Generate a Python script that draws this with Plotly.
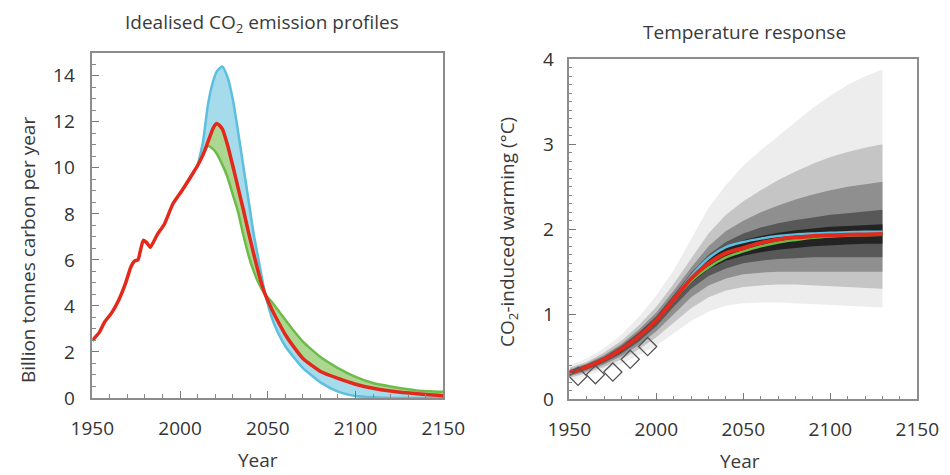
import plotly.graph_objects as go

FONT = "Open Sans"

# ---------------- Left panel: idealised CO2 emission profiles ----------------
hist_years = [1950, 1954, 1957, 1961, 1965, 1969, 1972, 1974, 1976, 1979, 1981,
              1983, 1987, 1991, 1996, 2001, 2006, 2008]
hist_emis = [2.5, 2.85, 3.3, 3.7, 4.25, 5.0, 5.7, 5.95, 6.0, 6.85, 6.75,
             6.55, 7.1, 7.55, 8.45, 9.0, 9.6, 9.85]

scn_years = [2010, 2013, 2016, 2019, 2021, 2024, 2027, 2030, 2033, 2036, 2039,
             2042, 2045, 2048, 2052, 2056, 2060, 2065, 2070, 2075, 2080, 2090,
             2100, 2110, 2120, 2135, 2150]
emis_red = [10.1, 10.55, 11.15, 11.75, 11.93, 11.7, 11.0, 10.1, 9.15, 8.2, 7.2,
            6.25, 5.35, 4.6, 3.9, 3.3, 2.75, 2.2, 1.72, 1.42, 1.15, 0.85,
            0.6, 0.42, 0.3, 0.18, 0.1]
emis_blue = [10.1, 11.1, 12.8, 13.8, 14.2, 14.4, 13.95, 13.0, 11.6, 10.1, 8.6,
             7.1, 5.9, 4.7, 3.55, 2.8, 2.25, 1.75, 1.3, 0.98, 0.68, 0.28,
             0.09, 0.03, 0.0, 0.0, 0.0]
emis_green = [10.1, 10.6, 10.95, 10.8, 10.6, 10.15, 9.6, 8.85, 8.1, 7.1, 6.2,
              5.5, 4.95, 4.55, 4.2, 3.8, 3.4, 2.9, 2.45, 2.1, 1.78, 1.3,
              0.92, 0.65, 0.5, 0.33, 0.27]

# ---------------- Right panel: temperature response ----------------
temp_years = [1950, 1960, 1970, 1980, 1990, 2000, 2010, 2020, 2030, 2040, 2050,
              2060, 2070, 2080, 2090, 2100, 2110, 2120, 2130]
temp_red = [0.31, 0.38, 0.47, 0.59, 0.74, 0.93, 1.17, 1.42, 1.6, 1.72, 1.78,
            1.84, 1.88, 1.905, 1.92, 1.93, 1.935, 1.94, 1.945]
temp_blue = [0.31, 0.38, 0.47, 0.59, 0.74, 0.93, 1.18, 1.45, 1.66, 1.79, 1.85,
             1.89, 1.92, 1.94, 1.95, 1.96, 1.965, 1.97, 1.97]
temp_green = [0.31, 0.38, 0.47, 0.59, 0.74, 0.93, 1.16, 1.39, 1.55, 1.67, 1.74,
              1.8, 1.845, 1.875, 1.9, 1.915, 1.925, 1.93, 1.935]

# ensemble spread envelopes (outer/faint -> inner/dark)
fan1_hi = [0.40, 0.48, 0.60, 0.76, 0.97, 1.22, 1.52, 1.88, 2.25, 2.52, 2.75,
           2.93, 3.1, 3.27, 3.43, 3.57, 3.7, 3.8, 3.88]
fan1_lo = [0.22, 0.28, 0.34, 0.42, 0.52, 0.63, 0.77, 0.92, 1.03, 1.1, 1.13,
           1.14, 1.14, 1.13, 1.12, 1.11, 1.1, 1.09, 1.08]
fan2_hi = [0.37, 0.44, 0.55, 0.69, 0.87, 1.09, 1.36, 1.66, 1.95, 2.17, 2.33,
           2.46, 2.58, 2.68, 2.77, 2.85, 2.91, 2.96, 3.0]
fan2_lo = [0.25, 0.31, 0.38, 0.47, 0.59, 0.73, 0.9, 1.07, 1.2, 1.28, 1.32,
           1.34, 1.35, 1.35, 1.34, 1.33, 1.32, 1.31, 1.3]
fan3_hi = [0.35, 0.42, 0.52, 0.65, 0.82, 1.02, 1.28, 1.55, 1.8, 1.98, 2.1,
           2.2, 2.28, 2.35, 2.41, 2.46, 2.5, 2.53, 2.56]
fan3_lo = [0.27, 0.33, 0.41, 0.51, 0.64, 0.8, 1.0, 1.2, 1.34, 1.42, 1.47,
           1.49, 1.5, 1.5, 1.5, 1.5, 1.5, 1.5, 1.5]
fan4_hi = [0.34, 0.41, 0.5, 0.63, 0.79, 0.98, 1.23, 1.49, 1.7, 1.85, 1.95,
           2.02, 2.07, 2.11, 2.14, 2.17, 2.19, 2.21, 2.23]
fan4_lo = [0.28, 0.35, 0.43, 0.54, 0.68, 0.86, 1.09, 1.3, 1.45, 1.54, 1.6,
           1.63, 1.65, 1.66, 1.67, 1.67, 1.67, 1.67, 1.67]
fan5_hi = [0.33, 0.40, 0.49, 0.61, 0.77, 0.96, 1.2, 1.46, 1.66, 1.79, 1.87,
           1.92, 1.96, 1.99, 2.01, 2.03, 2.04, 2.05, 2.06]
fan5_lo = [0.29, 0.36, 0.45, 0.56, 0.71, 0.9, 1.13, 1.37, 1.53, 1.63, 1.69,
           1.73, 1.76, 1.78, 1.8, 1.81, 1.82, 1.83, 1.83]

obs_years = [1955, 1965, 1975, 1985, 1995]
obs_temp = [0.27, 0.29, 0.32, 0.47, 0.62]

RED = "#e3291c"
BLUE_LINE = "#5bbfdd"
BLUE_FILL = "#a6dbec"
GREEN_LINE = "#6dbb48"
GREEN_FILL = "#acd791"

fig = go.Figure()

def band(x, hi, lo, color, xa, ya):
    fig.add_trace(go.Scatter(
        x=list(x) + list(x)[::-1], y=list(hi) + list(lo)[::-1],
        fill="toself", fillcolor=color, mode="lines", line=dict(width=0),
        hoverinfo="skip", showlegend=False, xaxis=xa, yaxis=ya))

# left panel
band(scn_years, emis_blue, emis_red, BLUE_FILL, "x", "y")
band(scn_years, emis_green, emis_red, GREEN_FILL, "x", "y")
fig.add_trace(go.Scatter(x=scn_years, y=emis_blue, mode="lines",
                         line=dict(color=BLUE_LINE, width=2.5, shape="spline", smoothing=0.6),
                         showlegend=False, xaxis="x", yaxis="y"))
fig.add_trace(go.Scatter(x=scn_years, y=emis_green, mode="lines",
                         line=dict(color=GREEN_LINE, width=2.5, shape="spline", smoothing=0.6),
                         showlegend=False, xaxis="x", yaxis="y"))
fig.add_trace(go.Scatter(x=hist_years + scn_years, y=hist_emis + emis_red, mode="lines",
                         line=dict(color=RED, width=3.5, shape="spline", smoothing=0.5),
                         showlegend=False, xaxis="x", yaxis="y"))

# right panel: ensemble fan
fan_layers = [(fan1_hi, fan1_lo, 0.07), (fan2_hi, fan2_lo, 0.17), (fan3_hi, fan3_lo, 0.27),
              (fan4_hi, fan4_lo, 0.38), (fan5_hi, fan5_lo, 0.6)]
for hi, lo, a in fan_layers:
    band(temp_years, hi, lo, f"rgba(0,0,0,{a})", "x2", "y2")

fig.add_trace(go.Scatter(x=temp_years, y=temp_blue, mode="lines",
                         line=dict(color=BLUE_LINE, width=2.5, shape="spline"),
                         showlegend=False, xaxis="x2", yaxis="y2"))
fig.add_trace(go.Scatter(x=temp_years, y=temp_green, mode="lines",
                         line=dict(color=GREEN_LINE, width=2.5, shape="spline"),
                         showlegend=False, xaxis="x2", yaxis="y2"))
fig.add_trace(go.Scatter(x=temp_years, y=temp_red, mode="lines",
                         line=dict(color=RED, width=4, shape="spline"),
                         showlegend=False, xaxis="x2", yaxis="y2"))
fig.add_trace(go.Scatter(x=obs_years, y=obs_temp, mode="markers",
                         marker=dict(symbol="diamond-open", size=14, color="#555555",
                                     line=dict(width=1.3)),
                         showlegend=False, xaxis="x2", yaxis="y2"))

axis_common = dict(showline=True, linecolor="#8c8c8c", linewidth=1.5, mirror=True,
                   ticks="inside", ticklen=7, tickwidth=1.2, tickcolor="#777777",
                   showgrid=False, zeroline=False, automargin=False,
                   tickfont=dict(family=FONT, size=19, color="#333333"))

fig.update_layout(
    width=950, height=475,
    margin=dict(l=0, r=0, t=0, b=0, autoexpand=False),
    paper_bgcolor="white", plot_bgcolor="white",
    font=dict(family=FONT, color="#333333"),
    xaxis=dict(domain=[0.0972, 0.4666], range=[1950, 2150], tick0=1950, dtick=50,
               anchor="y", ticklabelstandoff=12,
               minor=dict(ticks="inside", dtick=10, ticklen=4, tickcolor="#888888"),
               **axis_common),
    yaxis=dict(domain=[0.1621, 0.889], range=[0, 15], tick0=0, dtick=2,
               anchor="x", ticklabelstandoff=12,
               minor=dict(ticks="inside", dtick=0.5, ticklen=4, tickcolor="#888888"),
               **axis_common),
    xaxis2=dict(domain=[0.5993, 0.9656], range=[1950, 2150], tick0=1950, dtick=50,
                anchor="y2", ticklabelstandoff=12,
                minor=dict(ticks="inside", dtick=10, ticklen=4, tickcolor="#888888"),
                **axis_common),
    yaxis2=dict(domain=[0.1594, 0.8752], range=[0, 4], tick0=0, dtick=1,
                anchor="x2", ticklabelstandoff=10,
                minor=dict(ticks="inside", dtick=0.1, ticklen=3, tickcolor="#888888"),
                **axis_common),
)

ann_font = dict(family=FONT, size=19, color="#3a3a3a")
annotations = [
    dict(text="Idealised CO<sub>2</sub> emission profiles", x=0.2758, y=0.9516),
    dict(text="Temperature response", x=0.7832, y=0.9326),
    dict(text="Billion tonnes carbon per year", x=0.0295, y=0.4737, textangle=-90),
    dict(text="CO<sub>2</sub>-induced warming (°C)", x=0.5347, y=0.5116, textangle=-90),
    dict(text="Year", x=0.2716, y=0.0316),
    dict(text="Year", x=0.779, y=0.0295),
]
for a in annotations:
    fig.add_annotation(xref="paper", yref="paper", showarrow=False,
                       xanchor="center", yanchor="middle", font=ann_font, **a)

fig.write_html(
    "out.html",
    config={"displayModeBar": False},
    post_script="document.body.style.margin='0px';document.body.style.overflow='hidden';",
)
